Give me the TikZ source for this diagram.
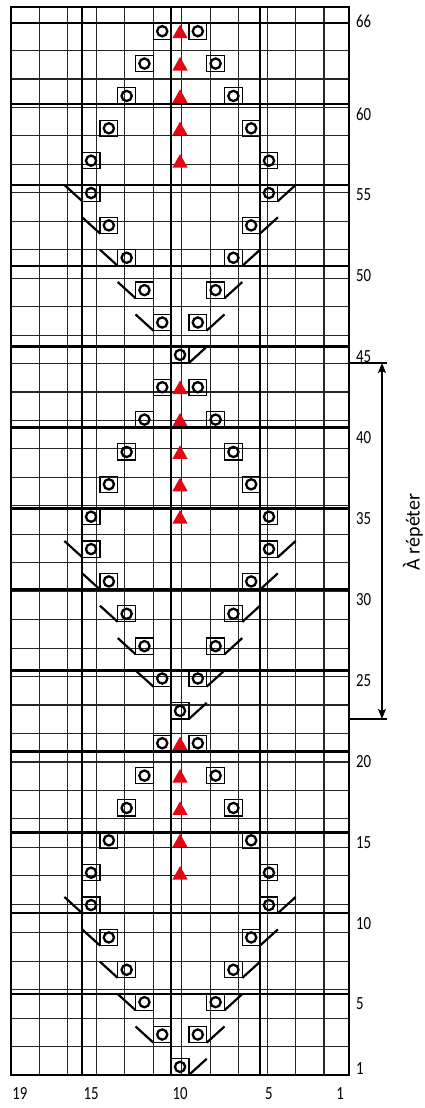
\documentclass[tikz,border=0pt]{standalone}
\usepackage{fontspec}
\setmainfont{Carlito}
\usetikzlibrary{arrows.meta}

\definecolor{rouge}{RGB}{227,6,19}

\begin{document}
\begin{tikzpicture}[x=17.79pt, y=16.18pt,
        fin/.style={black!85, line width=1.1pt},
        epais/.style={black, line width=2.6pt},
        cadre/.style={black, line width=1.2pt},
        jetestyle/.style={black, line width=2.3pt},
        diag/.style={black, line width=2.2pt},
        num/.style={inner sep=0pt, font=\fontsize{18.5}{20}\selectfont}]
        \useasboundingbox (-0.618,-2.04) rectangle (23.215,66.43);

        % Symboles (colonne, rang)
        \def\jete#1#2{%
            \draw[cadre] ({19-(#1)},{(#2)-1}) rectangle ++(1,1);
            \draw[jetestyle] ({19.5-(#1)},{(#2)-0.5}) circle (5.1pt);}
        \def\diagg#1#2{\draw[diag] ({19-(#1)},{#2}) -- ({20-(#1)},{(#2)-1});}
        \def\diagd#1#2{\draw[diag] ({19-(#1)},{(#2)-1}) -- ({20-(#1)},{#2});}
        \def\triang#1{\fill[rouge] (9.07,{(#1)-0.93}) -- (9.93,{(#1)-0.93}) -- (9.5,{(#1)-0.09}) -- cycle;}

        % Grille fine
        \draw[fin] (0,0) grid (19,66);

        % Motif, repete tous les 22 rangs
        \foreach \m in {0,22,44} {
            \jete{10}{1+\m}
            \diagd{9}{1+\m}
            \foreach \k in {0,...,4} {
                % feuilles
                \diagg{12+\k}{3+2*\k+\m}
                \jete{11+\k}{3+2*\k+\m}
                \jete{9-\k}{3+2*\k+\m}
                \diagd{8-\k}{3+2*\k+\m}
                % tiges
                \jete{15-\k}{13+2*\k+\m}
                \triang{13+2*\k+\m}
                \jete{5+\k}{13+2*\k+\m}
            }
        }

        % Lignes epaisses
        \foreach \x in {4,9,14} \draw[epais] (\x,0) -- (\x,66);
        \foreach \y in {5,10,...,65} \draw[epais] (0,\y) -- (19,\y);
        \draw[epais] (0,0) rectangle (19,66);

        % Numeros des rangs
        \foreach \r in {1,5,10,...,60}
            \node[num, anchor=west] (r\r) at (19.38,{\r-0.62}) {\scalebox{0.8}[1]{\r}};
        \node[num, anchor=west] (r66) at (19.38,65.1) {\scalebox{0.8}[1]{66}};

        % Numeros des colonnes
        \foreach \c in {19,15,10,5,1}
            \node[num] (c\c) at ({19.5-\c},-1.17) {\scalebox{0.8}[1]{\c}};

        % A repeter
        \coordinate (bas) at (19,22);
        \coordinate (haut) at (19,44);
        \coordinate (basfl) at (20.85,22);
        \coordinate (hautfl) at (20.85,44);
        \draw[line width=1.2pt] (bas) -- (21.13,22);
        \draw[line width=1.2pt] (haut) -- (21.13,44);
        \draw[line width=1.2pt, {Stealth[length=10pt,width=8pt,inset=2pt]}-{Stealth[length=10pt,width=8pt,inset=2pt]}] (basfl) -- (hautfl);
        \node[rotate=90, anchor=base, inner sep=0pt, font=\fontsize{20}{22}\selectfont] (repeter) at (22.96,33.56) {À répéter};
    \end{tikzpicture}
\end{document}
